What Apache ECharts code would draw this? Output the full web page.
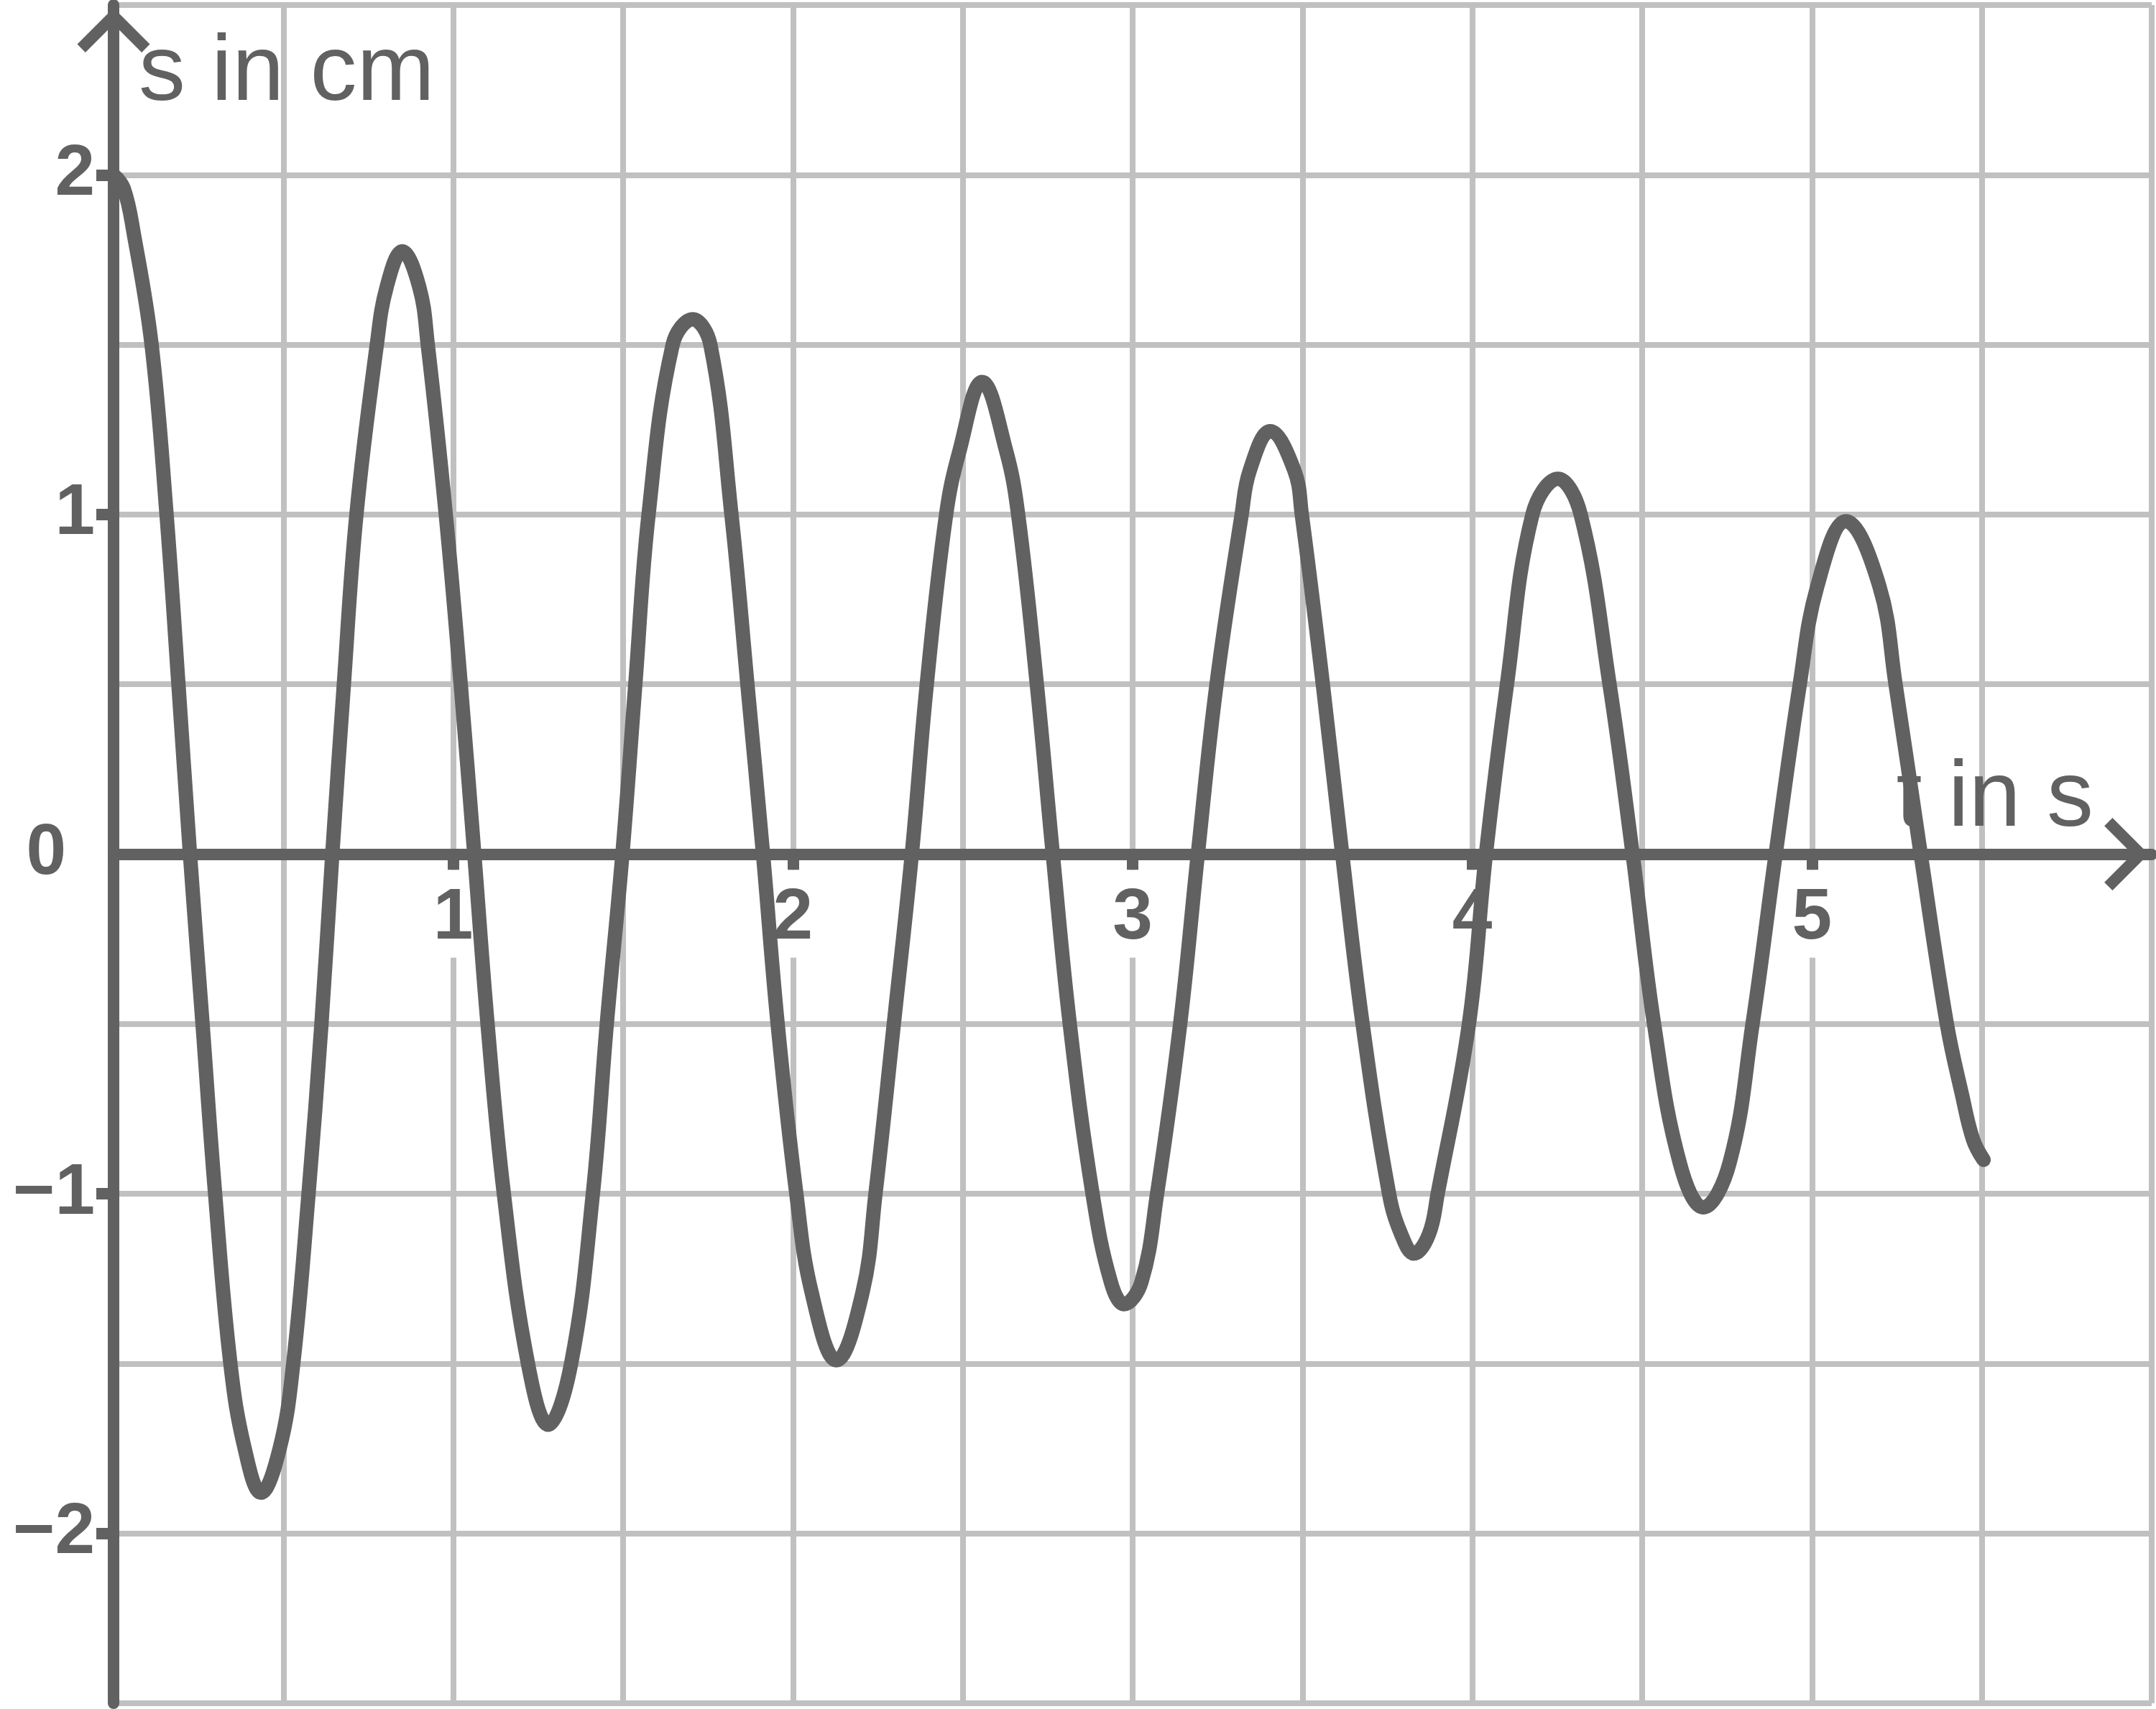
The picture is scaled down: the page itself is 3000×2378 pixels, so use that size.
<!DOCTYPE html>
<html>
<head>
<meta charset="utf-8">
<script src="https://cdn.jsdelivr.net/npm/echarts@6/dist/echarts.min.js"></script>
<style>
  html, body { margin: 0; padding: 0; background: #fff; }
  #chart { width: 3000px; height: 2378px; }
</style>
</head>
<body>
<div id="chart"></div>
<script>
// time in s
const tValues = [
  0.000, 0.030, 0.059, 0.112, 0.156, 0.191, 0.225, 0.262, 0.299, 0.344, 0.386, 0.434, 0.489,
  0.529, 0.574, 0.612, 0.644, 0.678, 0.715, 0.775, 0.804, 0.850, 0.900, 0.925, 0.978,
  1.022, 1.062, 1.101, 1.149, 1.220, 1.280, 1.347, 1.411, 1.452, 1.498, 1.536, 1.575,
  1.646, 1.705, 1.757, 1.819, 1.866, 1.912, 1.955, 2.010, 2.055, 2.128, 2.205, 2.243,
  2.297, 2.350, 2.394, 2.451, 2.491, 2.557, 2.627, 2.663, 2.718, 2.765, 2.815, 2.882,
  2.936, 2.975, 3.026, 3.072, 3.140, 3.192, 3.247, 3.321, 3.345, 3.405, 3.476, 3.498,
  3.560, 3.617, 3.677, 3.755, 3.791, 3.828, 3.872, 3.898, 3.990, 4.040, 4.102, 4.177,
  4.252, 4.319, 4.404, 4.472, 4.535, 4.611, 4.680, 4.757, 4.825, 4.893, 4.964, 5.016,
  5.100, 5.198, 5.246, 5.320, 5.397, 5.442, 5.474, 5.505
];
// displacement in cm
const sValues = [
  2.00, 1.96, 1.83, 1.50, 1.00, 0.50, 0.00, -0.50, -1.00, -1.50, -1.75, -1.88, -1.75,
  -1.50, -1.00, -0.50, 0.00, 0.50, 1.00, 1.50, 1.67, 1.775, 1.67, 1.50, 1.00,
  0.50, 0.00, -0.50, -1.00, -1.50, -1.68, -1.50, -1.00, -0.50, 0.00, 0.50, 1.00,
  1.50, 1.575, 1.50, 1.00, 0.50, 0.00, -0.50, -1.00, -1.29, -1.49, -1.29, -1.00,
  -0.50, 0.00, 0.50, 1.00, 1.19, 1.39, 1.19, 1.00, 0.50, 0.00, -0.50, -1.00,
  -1.26, -1.325, -1.26, -1.00, -0.50, 0.00, 0.50, 1.00, 1.13, 1.245, 1.13, 1.00,
  0.50, 0.00, -0.50, -1.00, -1.12, -1.176, -1.12, -1.00, -0.50, 0.00, 0.50, 1.00,
  1.105, 1.00, 0.50, 0.00, -0.50, -0.91, -1.04, -0.91, -0.50, 0.00, 0.50, 0.79,
  0.98, 0.79, 0.50, 0.00, -0.50, -0.71, -0.84, -0.90
];
const xTickValues = [1, 2, 3, 4, 5];
const yTickValues = [-2, -1, 1, 2];
const yLabelValues = [-2, -1, 0, 1, 2];

const ink = '#616161';
const gridGray = '#c0c0c0';
const chevron = 'path://M0,-11.3 L50.7,39.3 L39.3,50.7 L0,11.3 L-39.3,50.7 L-50.7,39.3 Z';

const points = tValues.map(function (t, i) { return [t, sValues[i]]; });

const chart = echarts.init(document.getElementById('chart'), null, { renderer: 'canvas' });

const labelFont = {
  fontFamily: 'Liberation Sans, Arial, sans-serif',
  fontWeight: 'bold',
  fontSize: 100,
  color: ink
};
const nameFont = {
  fontFamily: 'Liberation Sans, Arial, sans-serif',
  fontSize: 130,
  color: ink
};

// grid: top 7, bottom 8 -> plot height 2363, zero line sits half way
const plotHeight = 2378 - 7 - 8;

chart.setOption({
  animation: false,
  backgroundColor: '#fff',
  grid: { left: 158, right: 6, top: 7, bottom: 8, containLabel: false, outerBoundsMode: 'none' },
  xAxis: [{
    // grid lines only, every 0.5 s
    type: 'value', min: 0, max: 6, interval: 0.5, z: 0,
    axisLine: { show: false }, axisTick: { show: false }, axisLabel: { show: false },
    splitLine: { show: true, lineStyle: { color: gridGray, width: 8 } }
  }, {
    type: 'value',
    min: 0,
    max: 6,
    interval: 1,
    z: 1,
    position: 'bottom',
    offset: -plotHeight / 2,
    name: 't in s',
    nameLocation: 'end',
    nameGap: -81,
    nameTextStyle: Object.assign({
      align: 'right',
      verticalAlign: 'bottom',
      padding: [0, 0, 10, 0]
    }, nameFont),
    axisLine: {
      onZero: false,
      symbol: ['none', chevron],
      symbolSize: [101, 62],
      symbolOffset: [0, -35],
      lineStyle: { color: ink, width: 16 }
    },
    axisTick: {
      show: true,
      customValues: xTickValues,
      length: 22,
      lineStyle: { color: ink, width: 16 }
    },
    axisLabel: Object.assign({
      customValues: xTickValues,
      margin: 22,
      backgroundColor: '#fff',
      padding: [18, 6, 4, 6],
      formatter: function (v) { return String(v); }
    }, labelFont),
    splitLine: { show: false }
  }],
  yAxis: [{
    type: 'value', min: -2.5, max: 2.5, interval: 0.5, z: 0,
    axisLine: { show: false }, axisTick: { show: false }, axisLabel: { show: false },
    splitLine: { show: true, lineStyle: { color: gridGray, width: 8 } }
  }, {
    type: 'value',
    min: -2.5,
    max: 2.5,
    interval: 0.5,
    z: 1,
    position: 'left',
    name: 's in cm',
    nameLocation: 'end',
    nameGap: -161,
    nameTextStyle: Object.assign({
      align: 'left',
      verticalAlign: 'bottom',
      padding: [0, 0, 0, 35]
    }, nameFont),
    axisLine: {
      onZero: false,
      symbol: ['none', chevron],
      symbolSize: [101, 62],
      symbolOffset: [0, -35],
      lineStyle: { color: ink, width: 16 }
    },
    axisTick: {
      show: true,
      customValues: yTickValues,
      length: 24,
      lineStyle: { color: ink, width: 16 }
    },
    axisLabel: Object.assign({
      customValues: yLabelValues,
      margin: 26,
      align: 'right',
      formatter: function (v) {
        if (v === 0) return '{z|0}';
        return v < 0 ? '\u2212' + Math.abs(v) : String(v);
      },
      rich: {
        z: Object.assign({ padding: [0, 40, 0, 0] }, labelFont)
      }
    }, labelFont),
    splitLine: { show: false }
  }],
  series: [{
    type: 'line',
    xAxisIndex: 1,
    yAxisIndex: 1,
    data: points,
    showSymbol: false,
    smooth: 0.4,
    lineStyle: { color: ink, width: 20, cap: 'round', join: 'round' },
    z: 5
  }]
});
</script>
</body>
</html>
